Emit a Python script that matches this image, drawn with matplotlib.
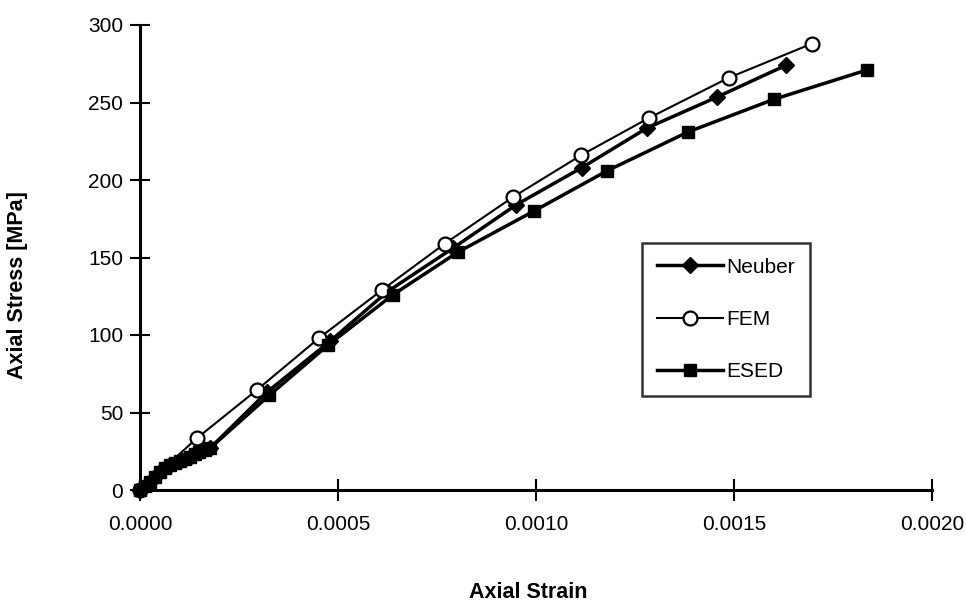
import matplotlib
matplotlib.use("Agg")
import matplotlib.pyplot as plt

plt.rcParams['font.family'] = ['Liberation Sans', 'DejaVu Sans']

# values (strain, stress in MPa)
neuber_strain = [0.0, 0.000025, 0.00005, 0.000076, 0.0001, 0.000126, 0.00015, 0.000177,
                 0.00032, 0.00048, 0.000625, 0.00079, 0.00095, 0.001116, 0.00128, 0.001457, 0.001631]
neuber_stress = [0, 5, 11.5, 16, 19, 21, 24.5, 27,
                 63, 96, 128, 156, 184, 208, 233.5, 253.5, 274]
fem_strain = [0.0, 0.000144, 0.000295, 0.000452, 0.000611, 0.00077, 0.000942,
              0.001114, 0.001285, 0.001487, 0.001697]
fem_stress = [0, 33.5, 64.5, 98, 129, 159, 189, 216, 240, 266, 288]
esed_strain = [0.0, 0.000012, 0.000025, 0.000038, 0.00005, 0.000063, 0.000076, 0.000088,
               0.0001, 0.000113, 0.000126, 0.000138, 0.00015, 0.000163, 0.000177,
               0.000326, 0.000475, 0.000639, 0.000803, 0.000995, 0.00118, 0.001384, 0.0016, 0.001836]
esed_stress = [0, 2.5, 5, 8.5, 11.5, 14, 16, 17.5, 19, 20, 21, 23, 24.5, 26, 27,
               61, 93.5, 126, 153.5, 180, 206, 231, 252, 271]

xticks = [0.0, 0.0005, 0.0010, 0.0015, 0.0020]
xticklabels = ["0.0000", "0.0005", "0.0010", "0.0015", "0.0020"]
yticks = [0, 50, 100, 150, 200, 250, 300]

W, H = 966, 607
fig = plt.figure(figsize=(W/100, H/100), dpi=100)
ax = fig.add_axes([140/W, 1-490/H, 792/W, 465/H])

ax.plot(neuber_strain, neuber_stress, "-D", color="black", lw=2.5, ms=8, clip_on=False, label="Neuber")
ax.plot(fem_strain, fem_stress, "-o", color="black", mfc="white", mew=1.6, lw=1.5, ms=10,
        clip_on=False, label="FEM")
ax.plot(esed_strain, esed_stress, "-s", color="black", lw=2.5, ms=9, clip_on=False, label="ESED")

ax.set_xlim(0, 0.002); ax.set_ylim(0, 300)
for s in ("top", "right"): ax.spines[s].set_visible(False)
for s in ("left", "bottom"): ax.spines[s].set_linewidth(2.2)
ax.set_xticks(xticks); ax.set_xticklabels(xticklabels)
ax.set_yticks(yticks)
ax.tick_params(axis="x", direction="inout", length=16, width=1.5, pad=10, labelsize=15)
ax.tick_params(axis="y", direction="inout", length=14, width=1.5, pad=5, labelsize=15)

fig.text(528/W, 1-592/H, "Axial Strain", ha="center", va="center", fontsize=15.5, fontweight="bold")
fig.text(18/W, 1-285/H, "Axial Stress [MPa]", ha="center", va="center", rotation=90,
         fontsize=15.5, fontweight="bold")

leg = ax.legend(loc="upper left", bbox_to_anchor=(642/W, 1-243/H), bbox_transform=fig.transFigure,
                fontsize=15, frameon=True, fancybox=False, handlelength=3.2, labelspacing=1.6,
                borderaxespad=0, borderpad=0.7, handletextpad=0.15)
leg.get_frame().set_edgecolor("black"); leg.get_frame().set_linewidth(1.8)

fig.savefig("out.png", dpi=100)
